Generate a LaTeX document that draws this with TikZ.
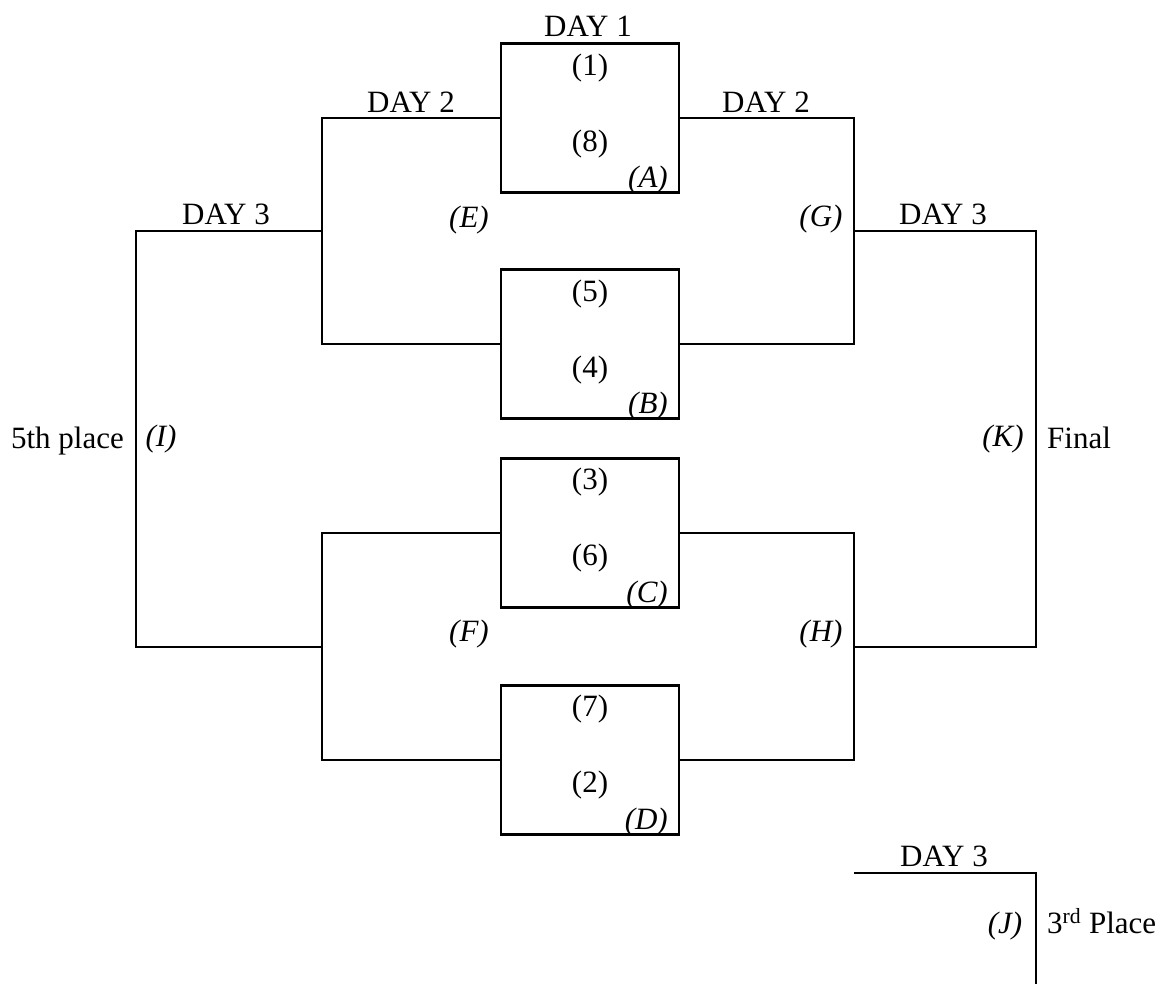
\documentclass[tikz,border=0pt]{standalone}
\usepackage{fontspec}
\setmainfont{Liberation Serif}
\usetikzlibrary{positioning,calc}

\begin{document}
\begin{tikzpicture}[x=1pt, y=-1pt,
  gbox/.style={rectangle, draw=black, line width=2.6pt, inner sep=0pt,
               minimum width=178pt, minimum height=149pt},
  wire/.style={draw=black, line width=2.6pt},
  day/.style={font=\fontsize{31}{36}\selectfont, inner sep=0pt},
  seed/.style={font=\fontsize{31}{36}\selectfont, inner sep=0pt},
  tag/.style={font=\fontsize{31}{36}\selectfont\itshape, inner sep=0pt},
  place/.style={font=\fontsize{31}{36}\selectfont, inner sep=0pt}
]
\useasboundingbox (0,0) rectangle (1159,984);

% Day 1 games
\node[gbox] (A) at (590,118) {};
\node[gbox] (B) at (590,344) {};
\node[gbox] (C) at (590,533) {};
\node[gbox] (D) at (590,760) {};

\node[seed] (s1) at (590,68)  {(1)};
\node[seed] (s8) at (590,144) {(8)};
\node[tag, anchor=east] (tA) at (668,180) {(A)};
\node[seed] (s5) at (590,294) {(5)};
\node[seed] (s4) at (590,370) {(4)};
\node[tag, anchor=east] (tB) at (668,406) {(B)};
\node[seed] (s3) at (590,482) {(3)};
\node[seed] (s6) at (590,558) {(6)};
\node[tag, anchor=east] (tC) at (668,595) {(C)};
\node[seed] (s7) at (590,709) {(7)};
\node[seed] (s2) at (590,785) {(2)};
\node[tag, anchor=east] (tD) at (668,822) {(D)};

% Bracket junctions
\coordinate (E) at (322,231);
\coordinate (F) at (322,647);
\coordinate (G) at (854,231);
\coordinate (H) at (854,647);
\coordinate (I) at (136,439);
\coordinate (K) at (1036,439);
\coordinate (Jin) at (854,873);
\coordinate (Jout) at (1036,990);

% Brackets
\draw[wire] (A.west) -| (E) |- (B.west);
\draw[wire] (C.west) -| (F) |- (D.west);
\draw[wire] (A.east) -| (G) |- (B.east);
\draw[wire] (C.east) -| (H) |- (D.east);
\draw[wire] (E) -| (I) |- (F);
\draw[wire] (G) -| (K) |- (H);
\draw[wire] (Jin) -| (Jout);

% Day labels
\node[day] (d1)  at (588,26)  {DAY 1};
\node[day] (d2l) at (411,102) {DAY 2};
\node[day] (d2r) at (766,102) {DAY 2};
\node[day] (d3l) at (226,214) {DAY 3};
\node[day] (d3r) at (943,214) {DAY 3};
\node[day] (d3b) at (944,856) {DAY 3};

% Game tags
\node[tag] (tE) at (469,220) {(E)};
\node[tag] (tG) at (821,219) {(G)};
\node[tag] (tF) at (469,634) {(F)};
\node[tag] (tH) at (821,634) {(H)};
\node[tag] (tI) at (161,439) {(I)};
\node[tag] (tK) at (1003,439) {(K)};
\node[tag] (tJ) at (1005,926) {(J)};

% Places
\node[place, anchor=base east] (p5) at (124,448) {5th place};
\node[place, anchor=base west] (pf) at (1047,448) {Final};
\node[place, anchor=base west] (p3) at (1047,933) {3\textsuperscript{rd} Place};
\end{tikzpicture}
\end{document}
